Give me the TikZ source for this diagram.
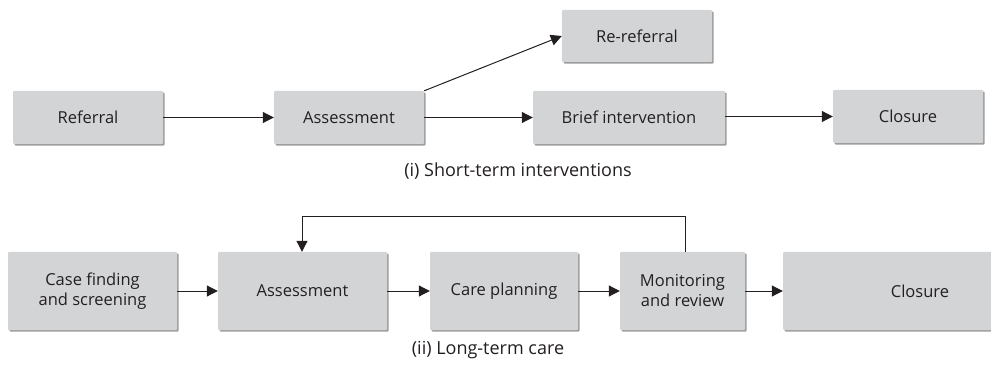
\documentclass[tikz,border=0pt]{standalone}
\usepackage{fontspec}
\setmainfont{Open Sans}
\usetikzlibrary{arrows.meta,shadows}
\definecolor{boxfill}{HTML}{D3D4D6}
\definecolor{boxshade}{HTML}{9C9C9C}
\definecolor{inkline}{HTML}{231F20}
\tikzset{
  stage/.style={draw=none, fill=boxfill, rounded corners=1pt, inner sep=0pt,
    align=center, font=\fontsize{16.5}{20}\selectfont, text=inkline,
    drop shadow={shadow xshift=1.6pt, shadow yshift=-1.6pt, fill=boxshade, opacity=1}},
  flow/.style={draw=inkline, line width=1pt, -{Triangle[length=11pt,width=11pt]}},
  caption/.style={font=\fontsize{18}{21}\selectfont, text=inkline}
}
% box from (left,top) to (right,bottom), pixel coordinates with y downwards
\newcommand{\stagebox}[6]{%
  \node[stage, minimum width={(#4)-(#2)}, minimum height={(#5)-(#3)}]
    (#1) at ({((#2)+(#4))/2},{((#3)+(#5))/2}) {#6};}
\begin{document}
\begin{tikzpicture}[x=1pt,y=-1pt]
\useasboundingbox (0,0) rectangle (991,366);

% (i) short-term interventions
\stagebox{ref}{13}{91}{163}{144}{Referral}
\stagebox{asA}{274}{91}{424}{144}{Assessment}
\stagebox{reref}{562}{10}{712}{62}{Re-referral}
\stagebox{brief}{533}{91}{725}{144}{Brief intervention}
\stagebox{closeA}{833}{90}{983}{143}{Closure}

\draw[flow] (ref.east) -- (asA.west);
\draw[flow] (asA.north east) -- (reref.west);
\draw[flow] (asA.east) -- (brief.west);
\draw[flow] (brief.east |- closeA.west) -- (closeA.west);

\node[caption] (capA) at (518,171) {(i) Short-term interventions};

% (ii) long-term care; the last box runs past the page edge
\stagebox{find}{8}{252}{177}{330}{Case finding\\and screening}
\stagebox{asB}{218}{252}{387}{330}{Assessment}
\stagebox{plan}{430}{252}{578}{330}{Care planning}
\stagebox{mon}{620}{252}{745}{330}{Monitoring\\and review}
\stagebox{closeB}{783}{252}{1057}{330}{Closure}

\draw[flow] (find.east) -- (asB.west);
\draw[flow] (asB.east) -- (plan.west);
\draw[flow] (plan.east) -- (mon.west);
\draw[flow] (mon.east) -- (closeB.west);

\coordinate (loopR) at (685,217);
\coordinate (loopL) at (302,217);
\draw[flow] (loopR |- mon.north) -- (loopR) -- (loopL) -- (loopL |- asB.north);

\node[caption] (capB) at (488,350) {(ii) Long-term care};
\end{tikzpicture}
\end{document}
